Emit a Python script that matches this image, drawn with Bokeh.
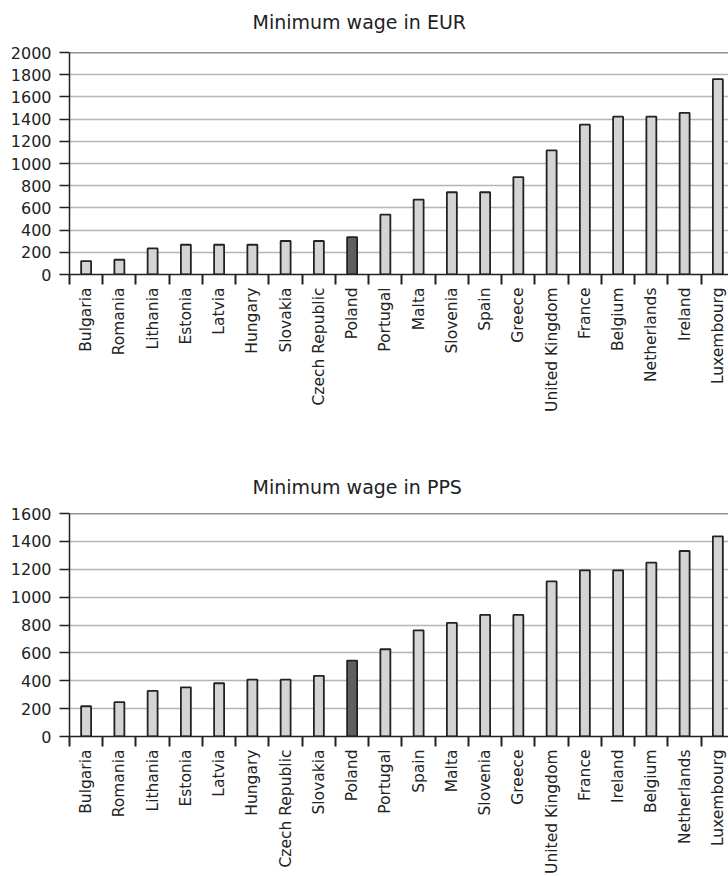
from math import pi
from bokeh.plotting import figure
from bokeh.models import Range1d, FixedTicker, Span, ColumnDataSource, Title
from bokeh.layouts import column
from bokeh.embed import file_html
from bokeh.resources import INLINE

# ---- data ----
eur_countries = ["Bulgaria", "Romania", "Lithania", "Estonia", "Latvia", "Hungary",
                 "Slovakia", "Czech Republic", "Poland", "Portugal", "Malta", "Slovenia",
                 "Spain", "Greece", "United Kingdom", "France", "Belgium", "Netherlands",
                 "Ireland", "Luxembourg"]
eur_values = [121, 133, 235, 268, 268, 268, 302, 302, 336, 540, 675, 741, 741, 878,
              1118, 1350, 1422, 1422, 1456, 1760]

pps_countries = ["Bulgaria", "Romania", "Lithania", "Estonia", "Latvia", "Hungary",
                 "Czech Republic", "Slovakia", "Poland", "Portugal", "Spain", "Malta",
                 "Slovenia", "Greece", "United Kingdom", "France", "Ireland", "Belgium",
                 "Netherlands", "Luxembourg"]
pps_values = [217, 246, 327, 353, 382, 408, 408, 435, 545, 626, 762, 815, 872, 872,
              1113, 1192, 1192, 1247, 1331, 1436]

eur_yticks = [0, 200, 400, 600, 800, 1000, 1200, 1400, 1600, 1800, 2000]
pps_yticks = [0, 200, 400, 600, 800, 1000, 1200, 1400, 1600]

highlight = "Poland"
FONT = "DejaVu Sans"
INK = "#222222"


def make_chart(title, countries, values, yticks, frame_h, border_bottom, gap):
    n = len(countries)
    idx = list(range(n))
    colors = ["#5f6062" if c == highlight else "#d3d4d5" for c in countries]
    src = ColumnDataSource(dict(x=idx, top=values, color=colors))
    ymax = yticks[-1]
    p = figure(frame_width=659, frame_height=frame_h,
               min_border_left=69, min_border_right=0, min_border_top=52,
               min_border_bottom=border_bottom,
               x_range=Range1d(-0.5, 19.32), y_range=Range1d(0, ymax),
               output_backend="svg", toolbar_location=None, tools="")
    p.outline_line_color = None
    p.background_fill_color = "white"
    p.border_fill_color = "white"

    # empty spacer between the frame and the title, then the title itself
    p.add_layout(Title(text=" ", text_font_size="1px", standoff=gap), "above")
    p.add_layout(Title(text=title, align="left", offset=183, standoff=0,
                       text_font=FONT, text_font_size="19px",
                       text_font_style="normal", text_color=INK), "above")

    p.vbar(x="x", top="top", bottom=0, width=0.3, source=src,
           fill_color="color", line_color=INK, line_width=1.8)

    # x axis: labels at category centres, tick marks at category boundaries
    xa = p.xaxis[0]
    xa.ticker = FixedTicker(ticks=idx, minor_ticks=[i - 0.5 for i in range(n + 1)])
    xa.major_label_overrides = {i: c for i, c in enumerate(countries)}
    xa.major_label_orientation = pi / 2
    xa.major_tick_out = 0
    xa.major_tick_in = 0
    xa.minor_tick_out = 10
    xa.minor_tick_in = 0
    xa.minor_tick_line_width = 2
    xa.minor_tick_line_color = INK
    xa.axis_line_color = INK
    xa.axis_line_width = 1.5
    xa.major_label_standoff = 3
    xa.major_label_text_font = FONT
    xa.major_label_text_font_size = "15.5px"
    xa.major_label_text_color = INK

    ya = p.yaxis[0]
    ya.ticker = FixedTicker(ticks=yticks)
    ya.major_tick_out = 10
    ya.major_tick_in = 0
    ya.major_tick_line_width = 1.5
    ya.major_tick_line_color = INK
    ya.minor_tick_out = 0
    ya.minor_tick_in = 0
    ya.axis_line_color = INK
    ya.axis_line_width = 1.5
    ya.major_label_standoff = 8
    ya.major_label_text_font = FONT
    ya.major_label_text_font_size = "16px"
    ya.major_label_text_color = INK

    p.xgrid.visible = False
    p.ygrid.grid_line_color = "#b5b5b5"
    p.ygrid.grid_line_width = 1.5

    p.add_layout(Span(location=ymax, dimension="width", line_color=INK, line_width=1.5))
    return p


top = make_chart("Minimum wage in EUR", eur_countries, eur_values, eur_yticks, 222, 187, 17)
bottom = make_chart("Minimum wage in PPS", pps_countries, pps_values, pps_yticks, 223, 138, 13)

layout = column(top, bottom)
open("out.html", "w").write(file_html(layout, INLINE))
